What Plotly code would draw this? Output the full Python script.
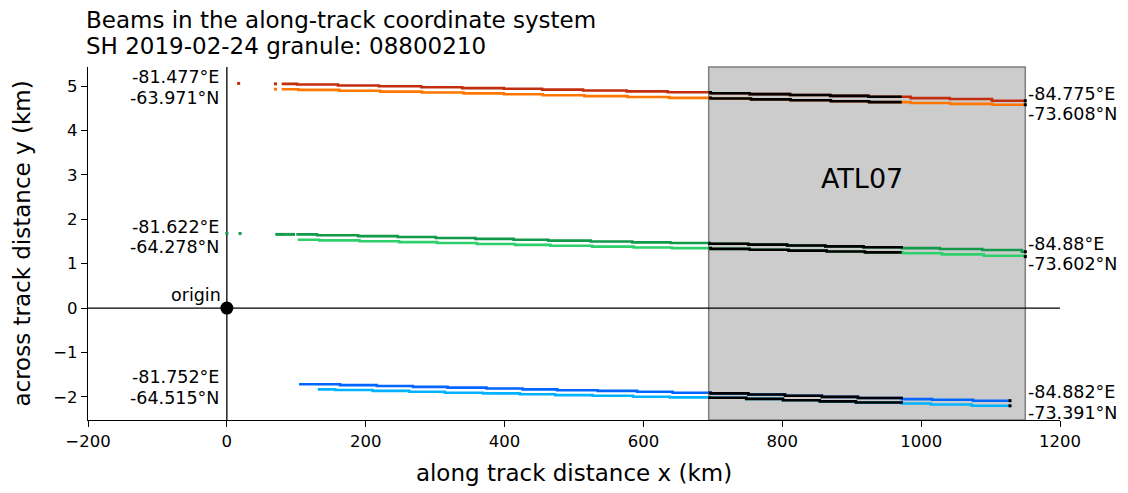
import plotly.graph_objects as go

# ---------------- data ----------------
red_x = [79, 101, 160, 219, 280, 339, 399, 454, 513, 576, 635, 697, 753, 811, 869, 924, 985, 1041, 1102, 1150]
red_y = [5.05, 5.035, 5.015, 4.995, 4.975, 4.955, 4.94, 4.92, 4.90, 4.88, 4.86, 4.84, 4.82, 4.80, 4.78, 4.76, 4.73, 4.71, 4.67, 4.67]
orange_x = [79, 103, 162, 221, 281, 341, 399, 455, 515, 577, 637, 697, 755, 812, 870, 925, 985, 1042, 1103, 1150]
orange_y = [4.93, 4.915, 4.895, 4.875, 4.855, 4.835, 4.815, 4.795, 4.775, 4.755, 4.735, 4.72, 4.70, 4.68, 4.66, 4.64, 4.62, 4.60, 4.58, 4.58]
dgreen_x = [100, 130, 189, 246, 301, 358, 413, 463, 524, 584, 639, 695, 751, 807, 862, 917, 972, 1027, 1088, 1145, 1150]
dgreen_y = [1.66, 1.64, 1.62, 1.60, 1.58, 1.56, 1.54, 1.52, 1.50, 1.48, 1.465, 1.45, 1.43, 1.41, 1.39, 1.37, 1.35, 1.33, 1.31, 1.27, 1.27]
lgreen_x = [102, 133, 191, 248, 303, 360, 415, 466, 526, 586, 641, 697, 753, 809, 864, 919, 974, 1030, 1090, 1150]
lgreen_y = [1.54, 1.525, 1.505, 1.485, 1.465, 1.445, 1.425, 1.405, 1.385, 1.365, 1.35, 1.335, 1.315, 1.295, 1.275, 1.255, 1.235, 1.21, 1.18, 1.16]
dblue_x = [104, 163, 216, 268, 318, 374, 426, 476, 534, 591, 642, 697, 751, 804, 857, 909, 972, 1016, 1075, 1128]
dblue_y = [-1.715, -1.735, -1.755, -1.775, -1.79, -1.81, -1.83, -1.85, -1.865, -1.885, -1.905, -1.92, -1.945, -1.975, -2.0, -2.025, -2.05, -2.065, -2.085, -2.085]
lblue_x = [131, 156, 210, 263, 314, 369, 422, 473, 527, 585, 638, 695, 748, 801, 854, 906, 972, 1014, 1073, 1128]
lblue_y = [-1.83, -1.845, -1.865, -1.885, -1.905, -1.92, -1.94, -1.96, -1.975, -1.995, -2.01, -2.02, -2.045, -2.075, -2.10, -2.125, -2.15, -2.17, -2.20, -2.20]

# sparse points before the continuous beams
red_pts_x = [17, 70]
red_pts_y = [5.06, 5.05]
orange_pts_x = [70]
orange_pts_y = [4.93]
dgreen_pts_x = [0, 19, 72, 76, 80, 84, 88, 92, 96]
dgreen_pts_y = [1.68, 1.68, 1.66, 1.66, 1.66, 1.66, 1.66, 1.66, 1.66]

atl07_range = [694, 1150]
black_range = [694, 972]

left_lon = ["-81.477°E", "-81.622°E", "-81.752°E"]
left_lat = ["-63.971°N", "-64.278°N", "-64.515°N"]
left_label_y = [4.966, 1.60, -1.79]
right_lon = ["-84.775°E", "-84.88°E", "-84.882°E"]
right_lat = ["-73.608°N", "-73.602°N", "-73.391°N"]
right_label_y = [4.597, 1.219, -2.125]
right_label_x = [1155, 1155, 1155]

title_lines = ["Beams in the along-track coordinate system", "SH 2019-02-24 granule: 08800210"]

x_ticks = [-200, 0, 200, 400, 600, 800, 1000, 1200]
y_ticks = [-2, -1, 0, 1, 2, 3, 4, 5]
x_range = [-200, 1200]
y_range = [-2.52, 5.43]

FONT = "DejaVu Sans"

colors = {
    "red": "#c22e0c",
    "orange": "#ff7700",
    "dgreen": "#12994a",
    "lgreen": "#2dd06b",
    "dblue": "#0066ff",
    "lblue": "#00b2ff",
}


def clip_steps(xs, ys, x0, x1):
    def val(x):
        v = ys[0]
        for xi, yi in zip(xs, ys):
            if xi <= x:
                v = yi
        return v
    cx = [x0] + [x for x in xs if x0 < x < x1] + [x1]
    return cx, [val(x) for x in cx]


fig = go.Figure()

beams = [
    (red_x, red_y, colors["red"]),
    (orange_x, orange_y, colors["orange"]),
    (dgreen_x, dgreen_y, colors["dgreen"]),
    (lgreen_x, lgreen_y, colors["lgreen"]),
    (dblue_x, dblue_y, colors["dblue"]),
    (lblue_x, lblue_y, colors["lblue"]),
]

for xs, ys, c in beams:
    fig.add_trace(go.Scatter(x=xs, y=ys, mode="lines", line=dict(color=c, width=2.6, shape="hv"),
                             showlegend=False, hoverinfo="skip"))

for px, py, c in [(red_pts_x, red_pts_y, colors["red"]), (orange_pts_x, orange_pts_y, colors["orange"]),
                  (dgreen_pts_x, dgreen_pts_y, colors["dgreen"])]:
    fig.add_trace(go.Scatter(x=px, y=py, mode="markers", marker=dict(color=c, size=3, symbol="square"),
                             showlegend=False, hoverinfo="skip"))

# black ATL07 overlap segments
for xs, ys, c in beams:
    cx, cy = clip_steps(xs, ys, black_range[0], black_range[1])
    fig.add_trace(go.Scatter(x=cx, y=cy, mode="lines", line=dict(color="black", width=2.6, shape="hv"),
                             showlegend=False, hoverinfo="skip"))

# end markers
fig.add_trace(go.Scatter(x=[xs[-1] for xs, ys, c in beams], y=[ys[-1] for xs, ys, c in beams],
                         mode="markers", marker=dict(color="black", size=3, symbol="square"),
                         showlegend=False, hoverinfo="skip"))

# origin
fig.add_trace(go.Scatter(x=[0], y=[0], mode="markers", marker=dict(color="black", size=13),
                         showlegend=False, hoverinfo="skip"))

shapes = [
    dict(type="rect", xref="x", yref="paper", x0=atl07_range[0], x1=atl07_range[1], y0=0, y1=1,
         fillcolor="#cccccc", line=dict(color="#7f7f7f", width=1.5), layer="below"),
    dict(type="line", xref="paper", yref="y", x0=0, x1=1, y0=0, y1=0,
         line=dict(color="black", width=1.3), layer="below"),
    dict(type="line", xref="x", yref="paper", x0=0, x1=0, y0=0, y1=1,
         line=dict(color="black", width=1.3), layer="below"),
]

ANN = 17.5
HALF = 10.2
annotations = []
for lon, lat, y in zip(left_lon, left_lat, left_label_y):
    for t, ys in ((lon, HALF), (lat, -HALF)):
        annotations.append(dict(x=0, y=y, xref="x", yref="y", text=t, showarrow=False, xanchor="right",
                                yanchor="middle", xshift=-6, yshift=ys,
                                font=dict(family=FONT, size=ANN, color="black")))
for lon, lat, x, y in zip(right_lon, right_lat, right_label_x, right_label_y):
    for t, ys in ((lon, HALF), (lat, -HALF)):
        annotations.append(dict(x=x, y=y, xref="x", yref="y", text=t, showarrow=False, xanchor="left",
                                yanchor="middle", xshift=-3, yshift=ys,
                                font=dict(family=FONT, size=ANN, color="black")))
annotations.append(dict(x=0, y=0.29, xref="x", yref="y", text="origin", showarrow=False, xanchor="right",
                        yanchor="middle", xshift=-4, font=dict(family=FONT, size=ANN, color="black")))
annotations.append(dict(x=915, y=2.93, xref="x", yref="y", text="ATL07",
                        showarrow=False, xanchor="center", yanchor="middle",
                        font=dict(family=FONT, size=27, color="black")))
for t, ys in zip(title_lines, [47, 21]):
    annotations.append(dict(x=0, y=1, xref="paper", yref="paper", xanchor="left", yanchor="middle",
                            text=t, showarrow=False, yshift=ys, xshift=-4,
                            font=dict(family=FONT, size=23, color="black")))

fig.update_layout(
    width=1128, height=493,
    margin=dict(l=88, r=68, t=67, b=71),
    paper_bgcolor="white", plot_bgcolor="white",
    font=dict(family=FONT, color="black"),
    shapes=shapes, annotations=annotations,
    xaxis=dict(range=x_range, tickvals=x_ticks, showgrid=False, zeroline=False, showline=True,
               linecolor="black", linewidth=1.2, ticks="outside", ticklen=6, tickwidth=1.2, tickcolor="black",
               tickfont=dict(family=FONT, size=16.5), title=dict(text="along track distance x (km)",
               font=dict(family=FONT, size=23), standoff=14)),
    yaxis=dict(range=y_range, tickvals=y_ticks, showgrid=False, zeroline=False, showline=True,
               linecolor="black", linewidth=1.2, ticks="outside", ticklen=6, tickwidth=1.2, tickcolor="black",
               tickfont=dict(family=FONT, size=16.5), title=dict(text="across track distance y (km)",
               font=dict(family=FONT, size=23), standoff=16)),
)

fig.write_html("out.html")
